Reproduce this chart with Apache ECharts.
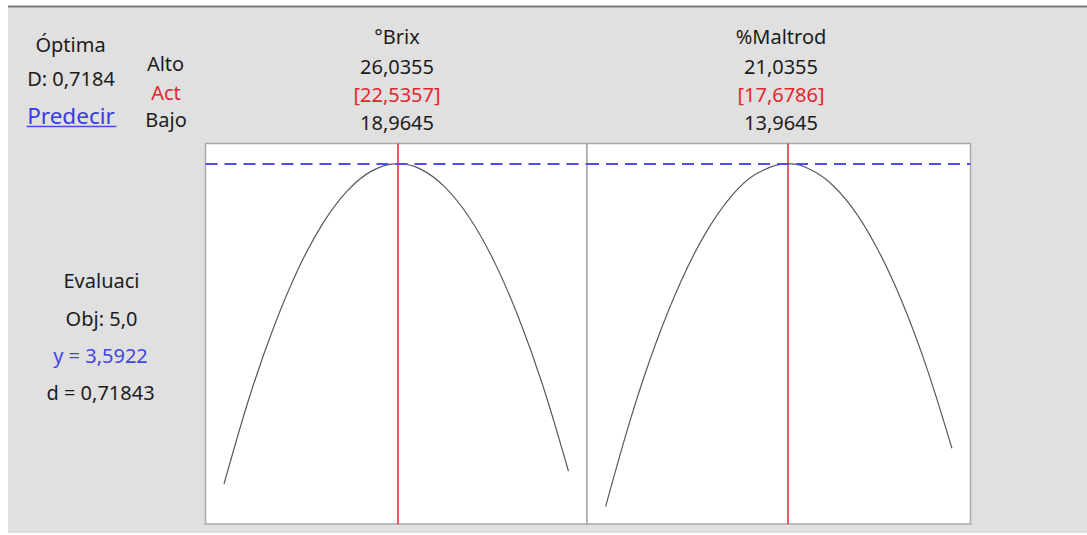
<!DOCTYPE html>
<html><head><meta charset="utf-8">
<script src="https://cdn.jsdelivr.net/npm/echarts@6/dist/echarts.min.js"></script>
<style>html,body{margin:0;padding:0;background:#fff}#c{width:1087px;height:535px}</style>
</head><body><div id="c"></div>
<script>
// ---- data ----
const factorNames = ['°Brix', '%Maltrod'];
const highLabels = ['26,0355', '21,0355'];
const actLabels = ['[22,5357]', '[17,6786]'];
const lowLabels = ['18,9645', '13,9645'];
const lowValues = [18.9645, 13.9645];
const highValues = [26.0355, 21.0355];
const actValues = [22.5357, 17.6786];

const brixX = [18.9645, 19.5, 20, 20.5, 21, 21.5, 22, 22.5357, 23, 23.5, 24, 24.5, 25, 25.5, 26.0355];
const brixY = [1.990, 2.435, 2.784, 3.072, 3.296, 3.457, 3.556, 3.5922, 3.565, 3.475, 3.323, 3.108, 2.829, 2.489, 2.054];
const maltX = [13.9645, 14.5, 15, 15.5, 16, 16.5, 17, 17.6786, 18, 18.5, 19, 19.5, 20, 20.5, 21.0355];
const maltY = [1.877, 2.336, 2.700, 3.002, 3.242, 3.420, 3.535, 3.5922, 3.579, 3.507, 3.372, 3.173, 2.912, 2.587, 2.169];

const yPredicted = 3.5922;
const headerLeft = ['Óptima', 'D: 0,7184', 'Predecir'];
const rowNames = ['Alto', 'Act', 'Bajo'];
const responseLabels = ['Evaluaci', 'Obj: 5,0', 'y = 3,5922', 'd = 0,71843'];

// ---- styling ----
const FONT = "'Noto Sans', 'Open Sans', sans-serif";
const BLACK = '#1c1c1c', RED = '#e0282c', BLUE = '#4444e6';
const yMin = 1.79, yMax = 3.693;
const pad = 0.38;

const chart = echarts.init(document.getElementById('c'), null, {renderer: 'svg'});

function txt(text, x, y, color, size) {
  return {type: 'text', x: x, y: y, z: 10,
    style: {text: text, fill: color || BLACK, font: (size || 20) + 'px ' + FONT,
      textAlign: 'center', textVerticalAlign: 'middle'}};
}

const panelCenters = [397, 781];
const graphics = [
  {type: 'rect', z: -10, shape: {x: 8, y: 7, width: 1079, height: 526}, style: {fill: '#e0e0e0'}},
  {type: 'line', z: -9, shape: {x1: 8, y1: 6.5, x2: 1087, y2: 6.5}, style: {stroke: '#7c7c7c', lineWidth: 2}},
  txt(headerLeft[0], 70.5, 44.5),
  txt(headerLeft[1], 71, 78),
  txt(headerLeft[2], 71, 115.5, '#3a3ae6', 22.5),
  {type: 'line', z: 10, shape: {x1: 26.5, y1: 126.5, x2: 116.5, y2: 126.5}, style: {stroke: '#4a4aee', lineWidth: 1.5}},
  txt(rowNames[0], 165.5, 63.5),
  txt(rowNames[1], 166, 92, RED),
  txt(rowNames[2], 166, 119),
  txt(responseLabels[0], 101.5, 280),
  txt(responseLabels[1], 101.5, 318),
  txt(responseLabels[2], 100.5, 355, BLUE),
  txt(responseLabels[3], 100.5, 392)
];
for (let i = 0; i < 2; i++) {
  graphics.push(txt(factorNames[i], panelCenters[i], 36.5));
  graphics.push(txt(highLabels[i], panelCenters[i], 66.5));
  graphics.push(txt(actLabels[i], panelCenters[i], 94, RED));
  graphics.push(txt(lowLabels[i], panelCenters[i], 122));
}

const curves = [brixX.map((x, i) => [x, brixY[i]]), maltX.map((x, i) => [x, maltY[i]])];

const option = {
  backgroundColor: '#ffffff',
  animation: false,
  graphic: {elements: graphics},
  grid: [
    {left: 205.5, top: 143.5, width: 381.5, height: 380.5, show: true, backgroundColor: '#fff', borderColor: '#a9a9a9', borderWidth: 1.5},
    {left: 587, top: 143.5, width: 383.5, height: 380.5, show: true, backgroundColor: '#fff', borderColor: '#a9a9a9', borderWidth: 1.5}
  ],
  xAxis: [0, 1].map(i => ({type: 'value', gridIndex: i, min: lowValues[i] - pad, max: highValues[i] + pad, show: false})),
  yAxis: [0, 1].map(i => ({type: 'value', gridIndex: i, min: yMin, max: yMax, show: false})),
  series: [0, 1].map(i => ({
    type: 'line', xAxisIndex: i, yAxisIndex: i, data: curves[i], showSymbol: false, smooth: 0.35,
    lineStyle: {color: '#5a5a5a', width: 1.2}, silent: true,
    markLine: {silent: true, symbol: 'none', label: {show: false},
      data: [
        {xAxis: actValues[i], lineStyle: {color: '#dc2a2a', width: 1.5, type: 'solid'}},
        {yAxis: yPredicted, lineStyle: {color: '#4f4fee', width: 2, type: [12, 7]}}
      ]}
  }))
};
chart.setOption(option);
</script></body></html>
